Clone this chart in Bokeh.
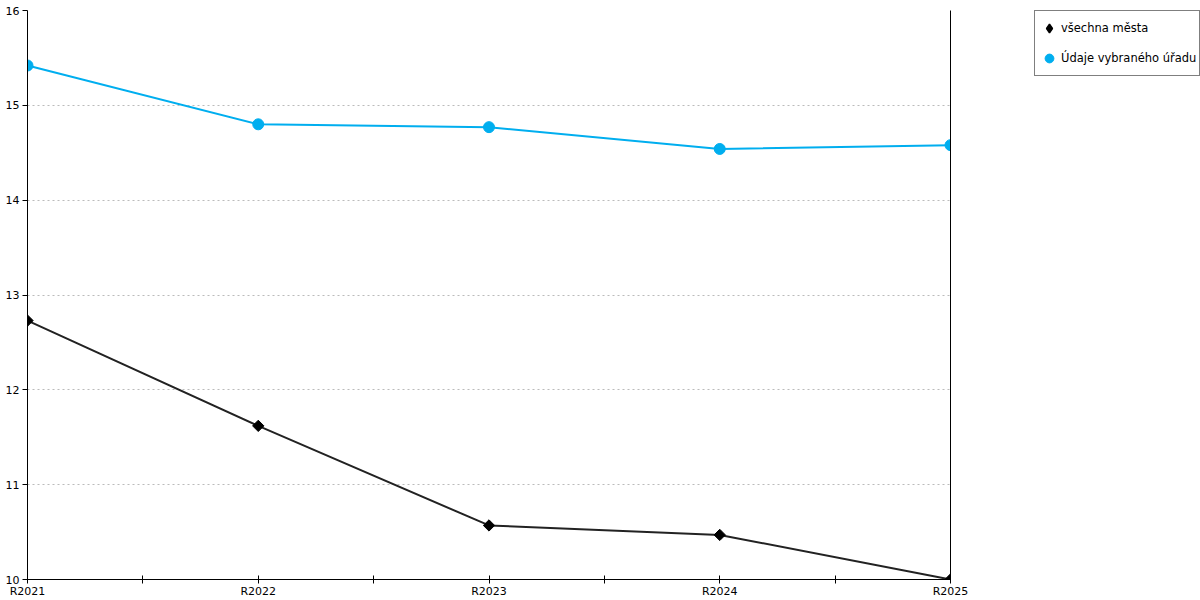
import math
from bokeh.plotting import figure
from bokeh.layouts import row
from bokeh.models import (ColumnDataSource, FixedTicker, LinearAxis, Legend, LegendItem, Range1d)
from bokeh.embed import file_html
from bokeh.resources import INLINE

years = ["R2021", "R2022", "R2023", "R2024", "R2025"]
vsechna_mesta = [12.73, 11.62, 10.57, 10.47, 10.0]
vybrany_urad = [15.42, 14.80, 14.77, 14.54, 14.58]
labels = ["všechna města", "Údaje vybraného úřadu"]

xs = list(range(len(years)))
src = ColumnDataSource(dict(x=xs, a=vsechna_mesta, b=vybrany_urad))

FONT = "DejaVu Sans"
BLUE = "#00AEEF"

p = figure(width=1034, height=600, output_backend="svg", toolbar_location=None,
           x_range=Range1d(0, len(years) - 1), y_range=Range1d(10, 16),
           min_border_top=10, min_border_left=27, min_border_right=84, min_border_bottom=21)
p.outline_line_color = None
p.background_fill_color = "white"
p.border_fill_color = "white"

# x axis
ticks = [i * 0.5 for i in range(2 * (len(years) - 1) + 1)]
p.xaxis.ticker = FixedTicker(ticks=ticks)
overrides = {}
for t in ticks:
    if float(t).is_integer():
        overrides[t] = years[int(t)]
    else:
        overrides[t] = ""
p.xaxis.major_label_overrides = overrides
p.xaxis.major_tick_in = 4
p.xaxis.major_tick_out = 4
p.xaxis.minor_tick_line_color = None
p.xaxis.major_label_standoff = 1
p.xaxis.axis_line_color = "black"
p.xaxis.major_tick_line_color = "black"
p.xaxis.major_label_text_font = FONT
p.xaxis.major_label_text_font_size = "11px"
p.xaxis.major_label_text_color = "black"

# y axis
p.yaxis.ticker = FixedTicker(ticks=[10, 11, 12, 13, 14, 15, 16])
p.yaxis.major_tick_in = 0
p.yaxis.major_tick_out = 5
p.yaxis.minor_tick_line_color = None
p.yaxis.major_label_standoff = 3
p.yaxis.axis_line_color = "black"
p.yaxis.major_tick_line_color = "black"
p.yaxis.major_label_text_font = FONT
p.yaxis.major_label_text_font_size = "11px"
p.yaxis.major_label_text_color = "black"

# right axis line (no ticks, no labels)
rax = LinearAxis(ticker=FixedTicker(ticks=[]), major_tick_in=0, major_tick_out=0,
                 minor_tick_line_color=None, axis_line_color="black", major_label_standoff=0)
p.add_layout(rax, "right")

p.xgrid.grid_line_color = None
p.ygrid.ticker = FixedTicker(ticks=[11, 12, 13, 14, 15, 16])
p.ygrid.grid_line_color = "#bbbbbb"
p.ygrid.grid_line_dash = "2 3"
p.ygrid.grid_line_width = 1

p.line("x", "b", source=src, line_color=BLUE, line_width=2)
p.scatter("x", "b", source=src, marker="circle", size=11, fill_color=BLUE, line_color=BLUE)
p.line("x", "a", source=src, line_color="#222222", line_width=2)
p.scatter("x", "a", source=src, marker="square", angle=math.pi / 4, size=8,
          fill_color="black", line_color="black")

# legend panel
lf = figure(width=166, height=600, output_backend="svg", toolbar_location=None,
            x_range=Range1d(0, 1), y_range=Range1d(0, 1), x_axis_type=None, y_axis_type=None,
            min_border_top=1, min_border_left=0, min_border_right=0, min_border_bottom=0)
lf.outline_line_color = None
lf.xgrid.grid_line_color = None
lf.ygrid.grid_line_color = None
offscreen = ColumnDataSource(dict(x=[-10], y=[-10]))
la = lf.scatter("x", "y", source=offscreen, marker="diamond", size=12,
                fill_color="black", line_color="black", line_width=1.5)
lb = lf.scatter("x", "y", source=offscreen, marker="circle", size=11,
                fill_color=BLUE, line_color=BLUE)

legend = Legend(items=[LegendItem(label=labels[0], renderers=[la]),
                       LegendItem(label=labels[1], renderers=[lb])],
                location="top_left", margin=0, padding=3, spacing=2,
                glyph_width=22, glyph_height=28, label_height=28, label_standoff=1,
                label_text_font=FONT, label_text_font_size="11.5px", label_text_color="black",
                border_line_color="black", border_line_width=1, background_fill_alpha=1)
lf.add_layout(legend, "center")

layout = row(p, lf)
open("out.html", "w").write(file_html(layout, INLINE))
